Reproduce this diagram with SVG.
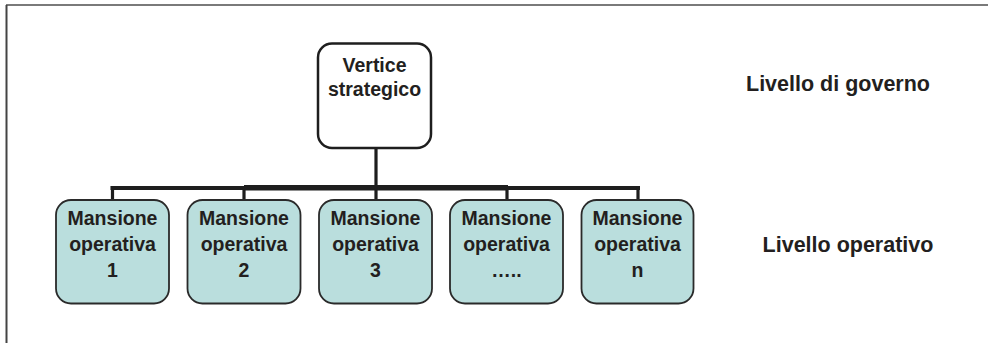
<svg xmlns="http://www.w3.org/2000/svg" width="988" height="343" viewBox="0 0 988 343">
<style>
.t{font-family:"Liberation Sans",Arial,sans-serif;font-weight:bold;fill:#231f20;text-anchor:middle}
.b{font-size:19.5px}
.l{font-size:21.5px}
.op{fill:#badedd;stroke:#2a2a2a;stroke-width:1.8}
.top{fill:#ffffff;stroke:#1e1e1e;stroke-width:2.5}
.c{stroke:#1e1e1e;fill:none}
</style>
<rect width="988" height="343" fill="#ffffff"/>
<g id="frame">
<line x1="6" y1="5" x2="988" y2="5" stroke="#7a7a7a" stroke-width="1.8"/>
<line x1="6.5" y1="5" x2="6.5" y2="343" stroke="#444444" stroke-width="2"/>
</g>
<g id="connectors">
<line class="c" x1="376" y1="148" x2="376" y2="200" stroke-width="3.2"/>
<line class="c" x1="110.5" y1="188" x2="640" y2="188" stroke-width="4"/>
<line class="c" x1="244" y1="187.8" x2="508" y2="187.8" stroke-width="5.5"/>
<line class="c" x1="112.5" y1="186" x2="112.5" y2="200" stroke-width="3.2"/>
<line class="c" x1="244" y1="186" x2="244" y2="200" stroke-width="3.2"/>
<line class="c" x1="507" y1="186" x2="507" y2="200" stroke-width="3.2"/>
<line class="c" x1="638" y1="186" x2="638" y2="200" stroke-width="3.2"/>
</g>
<g id="vertice">
<rect class="top" x="318" y="43.5" width="113" height="104.5" rx="14"/>
<text class="t b" x="374.5" y="72">Vertice</text>
<text class="t b" x="374.5" y="96">strategico</text>
</g>
<g id="mansione1">
<rect class="op" x="56" y="200" width="113" height="103.5" rx="15"/>
<text class="t b" x="112.5" y="225">Mansione</text>
<text class="t b" x="112.5" y="251">operativa</text>
<text class="t b" x="112.5" y="277">1</text>
</g>
<g id="mansione2">
<rect class="op" x="187.5" y="200" width="113" height="103.5" rx="15"/>
<text class="t b" x="244" y="225">Mansione</text>
<text class="t b" x="244" y="251">operativa</text>
<text class="t b" x="244" y="277">2</text>
</g>
<g id="mansione3">
<rect class="op" x="319" y="200" width="113" height="103.5" rx="15"/>
<text class="t b" x="375.5" y="225">Mansione</text>
<text class="t b" x="375.5" y="251">operativa</text>
<text class="t b" x="375.5" y="277">3</text>
</g>
<g id="mansione4">
<rect class="op" x="450" y="200" width="113" height="103.5" rx="15"/>
<text class="t b" x="506.5" y="225">Mansione</text>
<text class="t b" x="506.5" y="251">operativa</text>
<text class="t b" x="506.5" y="277">…..</text>
</g>
<g id="mansione5">
<rect class="op" x="581.5" y="200" width="112" height="103.5" rx="15"/>
<text class="t b" x="637.5" y="225">Mansione</text>
<text class="t b" x="637.5" y="251">operativa</text>
<text class="t b" x="637.5" y="277">n</text>
</g>
<g id="livello-governo">
<text class="t l" x="838" y="91">Livello di governo</text>
</g>
<g id="livello-operativo">
<text class="t l" x="848" y="252">Livello operativo</text>
</g>
</svg>
